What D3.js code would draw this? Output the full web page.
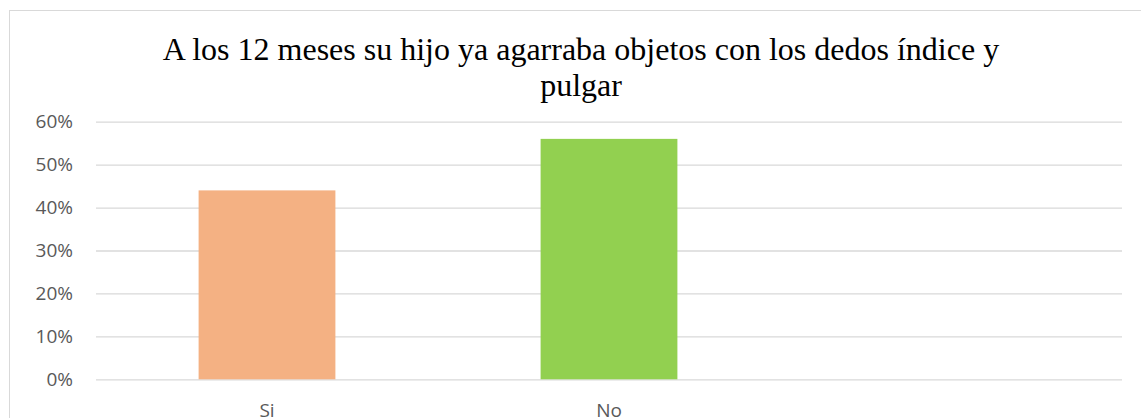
<!DOCTYPE html>
<html><head><meta charset="utf-8">
<script src="https://cdn.jsdelivr.net/npm/d3@7"></script>
<style>body{margin:0;background:#fff;}svg{display:block;}</style>
</head><body>
<script>
const categories = ["Si", "No", ""];
const values = [0.44, 0.56, null];
const yTicks = [0, 0.1, 0.2, 0.3, 0.4, 0.5, 0.6];
const colors = ["#F4B183", "#92D050", "#FFFFFF"];
const titleLines = ["A los 12 meses su hijo ya agarraba objetos con los dedos índice y", "pulgar"];

const W = 1141, H = 418;
const svg = d3.select("body").append("svg").attr("width", W).attr("height", H);
svg.append("rect").attr("x", 9.5).attr("y", 10.5).attr("width", 1160).attr("height", 440)
  .attr("fill", "#fff").attr("stroke", "#d9d9d9").attr("stroke-width", 1);

const x = d3.scaleBand().domain(categories.map((c, i) => i)).range([96, 1122]).paddingInner(0.6).paddingOuter(0.3);
const y = d3.scaleLinear().domain([0, 0.6]).range([379.3, 121.7]);

const yAxis = d3.axisLeft(y).tickValues(yTicks).tickFormat(d3.format(".0%")).tickSize(-(1122 - 96)).tickPadding(23);
const gy = svg.append("g").attr("transform", "translate(96,0)").call(yAxis);
gy.select(".domain").remove();
gy.selectAll(".tick line").attr("stroke", "#d9d9d9").attr("stroke-width", 1.3);
gy.selectAll(".tick text").attr("fill", "#595959").attr("font-family", "Open Sans, Liberation Sans, sans-serif").attr("font-size", 19);

svg.append("g").selectAll("rect").data(values).join("rect")
  .filter(d => d != null)
  .attr("x", (d, i) => x(i)).attr("width", x.bandwidth())
  .attr("y", d => y(d)).attr("height", d => y(0) - y(d))
  .attr("fill", (d, i) => colors[i]);

const xAxis = d3.axisBottom(x).tickFormat(i => categories[i]).tickSize(0).tickPadding(24);
const gx = svg.append("g").attr("transform", "translate(0,379.3)").call(xAxis);
gx.select(".domain").remove();
gx.selectAll(".tick text").attr("fill", "#595959").attr("font-family", "Open Sans, Liberation Sans, sans-serif").attr("font-size", 19);

svg.append("text").attr("text-anchor", "middle").attr("font-family", "Liberation Serif, Times New Roman, serif")
  .attr("font-size", 32).attr("fill", "#000")
  .selectAll("tspan").data(titleLines).join("tspan")
  .attr("x", 581).attr("y", (d, i) => 60 + i * 36).text(d => d);
</script>
</body></html>
